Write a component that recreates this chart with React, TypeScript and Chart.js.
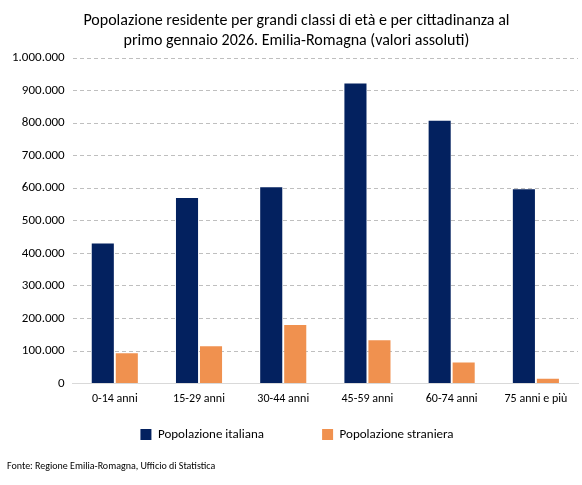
import React, { useEffect, useRef } from "react";
import { Chart, registerables } from "chart.js";

Chart.register(...registerables);

const categories = ["0-14 anni", "15-29 anni", "30-44 anni", "45-59 anni", "60-74 anni", "75 anni e più"];
const italiana = [430000, 570000, 603000, 922000, 807000, 597000];
const straniera = [93000, 115000, 180000, 133000, 65000, 15000];
const titleLines = [
  "Popolazione residente per grandi classi di età e per cittadinanza al",
  "primo gennaio 2026. Emilia-Romagna (valori assoluti)",
];
const sourceText = "Fonte: Regione Emilia-Romagna, Ufficio di Statistica";

const FONT = 'Carlito, Lato, "Noto Sans", sans-serif';

function fmt(v: number): string {
  const s = Math.round(v).toString();
  return s.replace(/\B(?=(\d{3})+(?!\d))/g, ".");
}

const footerPlugin = {
  id: "footerText",
  afterLayout(chart: any) {
    const lg = chart.legend;
    if (lg) {
      lg.left += 6;
      lg.right += 6;
    }
  },
  afterDraw(chart: any) {
    const ctx = chart.ctx;
    ctx.save();
    ctx.font = `10px ${FONT}`;
    ctx.fillStyle = "#000000";
    ctx.textAlign = "left";
    ctx.textBaseline = "middle";
    ctx.fillText(sourceText, 7, 466);
    ctx.restore();
  },
};

export default function App() {
  const ref = useRef<HTMLCanvasElement | null>(null);
  useEffect(() => {
    document.body.style.margin = "0";
    const chart = new Chart(ref.current as HTMLCanvasElement, {
      type: "bar",
      data: {
        labels: categories,
        datasets: [
          {
            label: "Popolazione italiana",
            data: italiana,
            backgroundColor: "#03215F",
            categoryPercentage: 0.57,
            barPercentage: 0.92,
          },
          {
            label: "Popolazione straniera",
            data: straniera,
            backgroundColor: "#F0914F",
            categoryPercentage: 0.57,
            barPercentage: 0.92,
          },
        ],
      },
      options: {
        animation: false,
        responsive: false,
        maintainAspectRatio: false,
        layout: { padding: { left: 4, right: 4, top: 9, bottom: 34 } },
        plugins: {
          title: {
            display: true,
            text: titleLines.map((t) => "   " + t),
            color: "#000000",
            font: { family: FONT, size: 16, weight: "normal", lineHeight: 1.25 },
            padding: { top: 2, bottom: 7 },
          },
          legend: {
            position: "bottom",
            labels: {
              color: "#000000",
              font: { family: FONT, size: 13 },
              boxWidth: 11,
              boxHeight: 11,
              padding: 14,
              generateLabels: (chart: any) => {
                const items = Chart.defaults.plugins.legend.labels.generateLabels(chart);
                if (items[0]) items[0].text = items[0].text + "               ";
                return items;
              },
            },
          },
          tooltip: { enabled: false },
        },
        scales: {
          x: {
            grid: { display: false, drawTicks: false },
            border: { display: true, color: "#D9D9D9", width: 1 },
            ticks: { color: "#000000", font: { family: FONT, size: 12 }, padding: 8, maxRotation: 0 },
          },
          y: {
            min: 0,
            max: 1000000,
            ticks: {
              stepSize: 100000,
              color: "#000000",
              font: { family: FONT, size: 13 },
              padding: 8,
              callback: (v: any) => fmt(Number(v)),
            },
            grid: { color: "#BFBFBF", drawTicks: false, tickLength: 0 },
            border: { display: false, dash: [4, 3] },
          },
        },
      },
      plugins: [footerPlugin],
    });
    return () => chart.destroy();
  }, []);
  return (
    <div style={{ width: 582, height: 485 }}>
      <canvas ref={ref} width={582} height={485} style={{ display: "block" }} />
    </div>
  );
}
